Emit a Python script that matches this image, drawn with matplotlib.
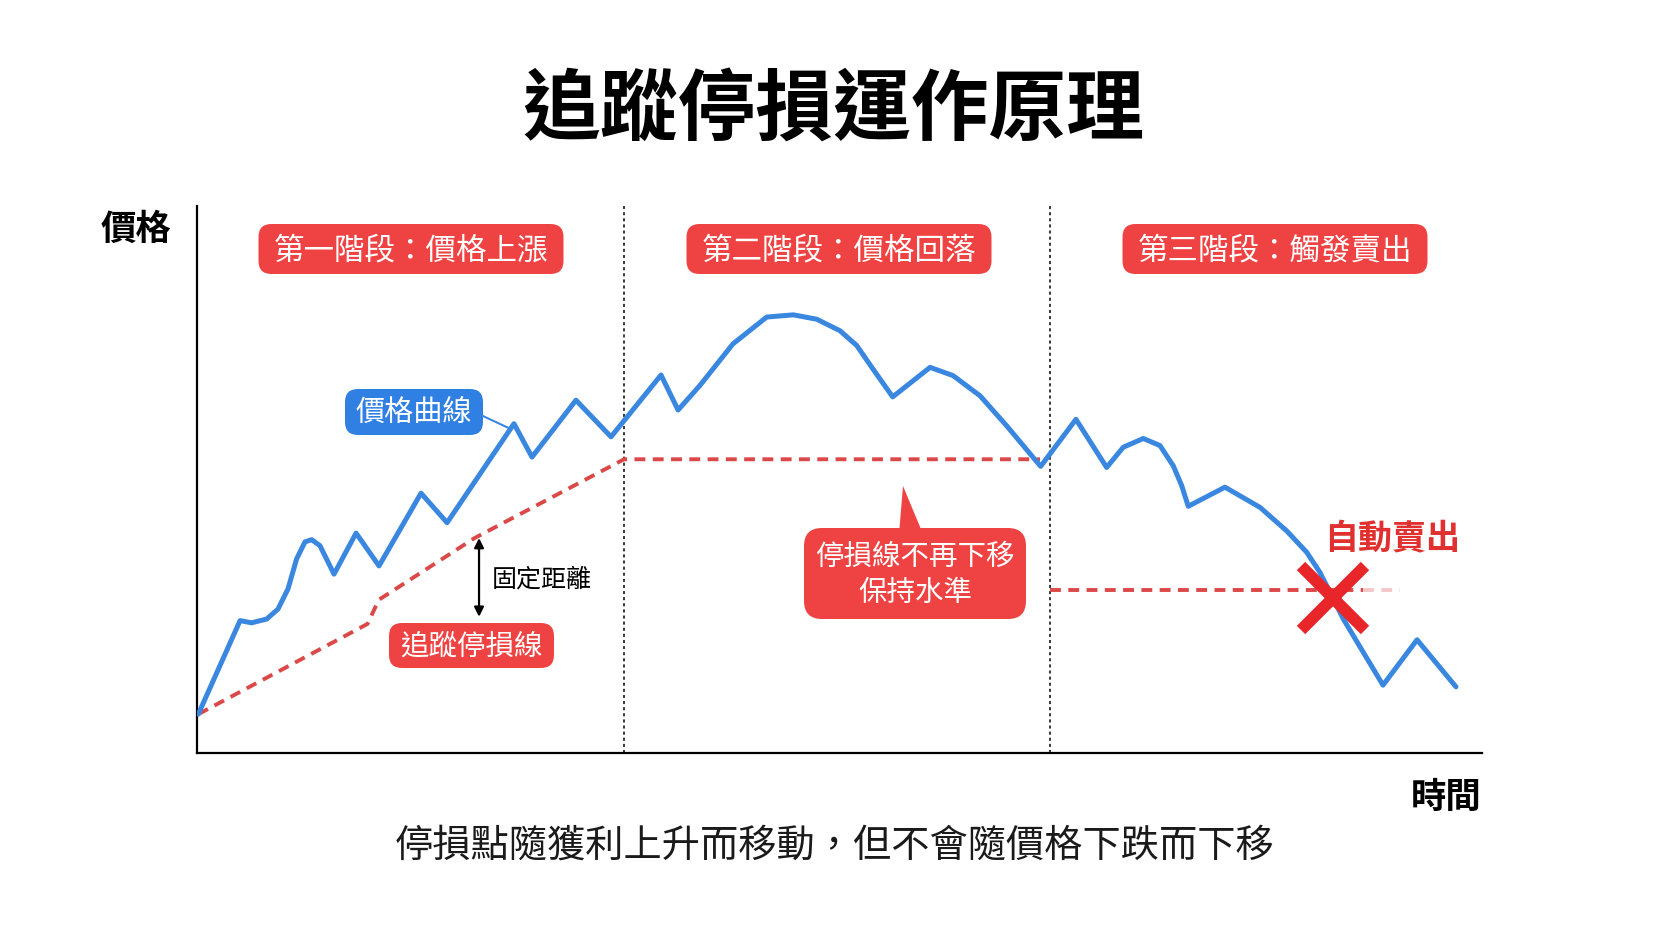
import matplotlib.pyplot as plt
from matplotlib.patches import FancyBboxPatch, Polygon

plt.rcParams['font.family'] = ['Noto Sans CJK TC', 'DejaVu Sans']

# price path (time, price)
time = [0.41, 3.65, 4.55, 5.72, 6.59, 7.37, 8.04, 8.69, 9.21, 9.85, 10.94, 12.65,
        14.43, 17.69, 19.71, 24.90, 26.30, 29.71, 32.43, 36.31, 37.63, 39.33, 41.89,
        44.51, 46.57, 48.39, 50.19, 51.49, 52.75, 54.28, 57.18, 58.96, 61.06, 63.13,
        65.76, 68.50, 70.88, 72.17, 73.72, 75.02, 76.05, 76.70, 77.21, 80.06, 82.78,
        84.85, 86.40, 87.43, 88.46, 89.24, 92.32, 94.96, 97.98]
price = [7.1, 24.2, 23.8, 24.5, 26.3, 30.0, 35.5, 38.6, 39.0, 37.9, 32.7, 40.2,
         34.2, 47.5, 42.1, 60.2, 54.1, 64.5, 57.8, 69.1, 62.7, 67.2, 74.8,
         79.7, 80.1, 79.3, 77.2, 74.5, 70.2, 65.1, 70.5, 69.0, 65.3, 59.8,
         52.4, 61.0, 52.2, 55.9, 57.5, 56.2, 52.5, 48.9, 45.1, 48.6, 44.9,
         40.6, 36.7, 33.0, 28.2, 24.5, 12.4, 20.7, 12.1]

# trailing stop line
stop_time = [0.41, 13.54, 14.41, 21.85, 33.44, 65.71]
stop_price = [7.1, 23.6, 28.0, 39.3, 53.7, 53.7]

# stop level held in phase three
hold_time = [66.49, 90.8, 93.6]
hold_price = 29.8

sell_time, sell_price = 88.44, 28.3
phase_edges = [33.44, 66.49]
phase_labels = ['第一階段：價格上漲', '第二階段：價格回落', '第三階段：觸發賣出']
gap_time, gap_low, gap_high = 22.19, 24.9, 39.3

W, H = 1666, 937
RED = '#EF4343'
BLUE = '#2F80E2'
LINE_BLUE = '#3A87E0'
DASH_RED = '#DB4848'
DASH = (0, (2.8, 1.9))

fig = plt.figure(figsize=(W / 100, H / 100), dpi=100)
fig.patch.set_facecolor('white')
ax = fig.add_axes([197 / W, 1 - 754 / H, 1285 / W, 547 / H])
ax.set_xlim(0.31, 100)
ax.set_ylim(0, 100)
for s in ['top', 'right']:
    ax.spines[s].set_visible(False)
for s in ['left', 'bottom']:
    ax.spines[s].set_linewidth(1.6)
ax.set_xticks([])
ax.set_yticks([])

for e in phase_edges:
    ax.axvline(e, color='black', lw=1.1, ls=(0, (2, 2)), zorder=1)

ax.plot(stop_time, stop_price, color=DASH_RED, lw=2.8, ls=DASH, zorder=2)
ax.plot(hold_time[:2], [hold_price] * 2, color=DASH_RED, lw=2.8, ls=DASH, zorder=2)
ax.plot(hold_time[1:], [hold_price] * 2, color=DASH_RED, lw=2.8, ls=DASH,
        alpha=0.3, zorder=2)

ax.plot(time, price, color=LINE_BLUE, lw=3.6, solid_joinstyle='round',
        solid_capstyle='round', zorder=3)

ax.plot(sell_time, sell_price, marker='x', ms=46, mew=8.5, color='#E8262A', zorder=4)

ax.annotate('', xy=(gap_time, gap_low), xytext=(gap_time, gap_high),
            arrowprops=dict(arrowstyle='<|-|>', color='black', lw=1.6,
                            mutation_scale=14, shrinkA=0, shrinkB=0))

# connector from label to curve
ax.plot([22.5, 24.5], [61.6, 59.4], color=LINE_BLUE, lw=1.5, zorder=2)


def px(x, y):
    return (x / 100, (H - y) / 100)


def box(cx, cy, w, h, color, r=13):
    p = FancyBboxPatch(px(cx - w / 2, cy + h / 2), w / 100, h / 100,
                       boxstyle=f'round,pad=0,rounding_size={r / 100}',
                       fc=color, ec='none', transform=fig.dpi_scale_trans)
    fig.add_artist(p)


def label(cx, cy, s, size, color='white', weight='normal', ha='center', **kw):
    fig.text(*px(cx, cy), s, transform=fig.dpi_scale_trans, ha=ha, va='center',
             fontsize=size, color=color, fontweight=weight, **kw)


fig.text(*px(833, 111), '追蹤停損運作原理', transform=fig.dpi_scale_trans,
         ha='center', va='center', fontsize=56, fontweight='black', color='black')

for cx, lab in zip([411, 839, 1275], phase_labels):
    box(cx, 250, 305, 50, RED)
    label(cx, 251, lab, 22)

box(414, 413, 138, 46, BLUE)
label(414, 413, '價格曲線', 21)

box(471.5, 646.5, 165, 45, RED)
label(471.5, 646.5, '追蹤停損線', 20.5)

label(492, 580, '固定距離', 18, color='black', ha='left')

tail = Polygon([px(899, 535), px(923, 535), px(903, 487)], closed=True,
               fc=RED, ec='none', transform=fig.dpi_scale_trans)
fig.add_artist(tail)
box(915, 574.5, 222, 91, RED, r=18)
label(915, 557, '停損線不再下移', 20.5)
label(915, 593, '保持水準', 20.5)

label(1392, 538, '自動賣出', 24.5, color='#E03030', weight='bold')

label(136, 229, '價格', 25.5, color='black', weight='bold')
label(1482, 797, '時間', 25.5, color='black', weight='bold', ha='right')

label(835, 846, '停損點隨獲利上升而移動，但不會隨價格下跌而下移', 27.5, color='#1a1a1a')

fig.savefig('out.png', dpi=100)
